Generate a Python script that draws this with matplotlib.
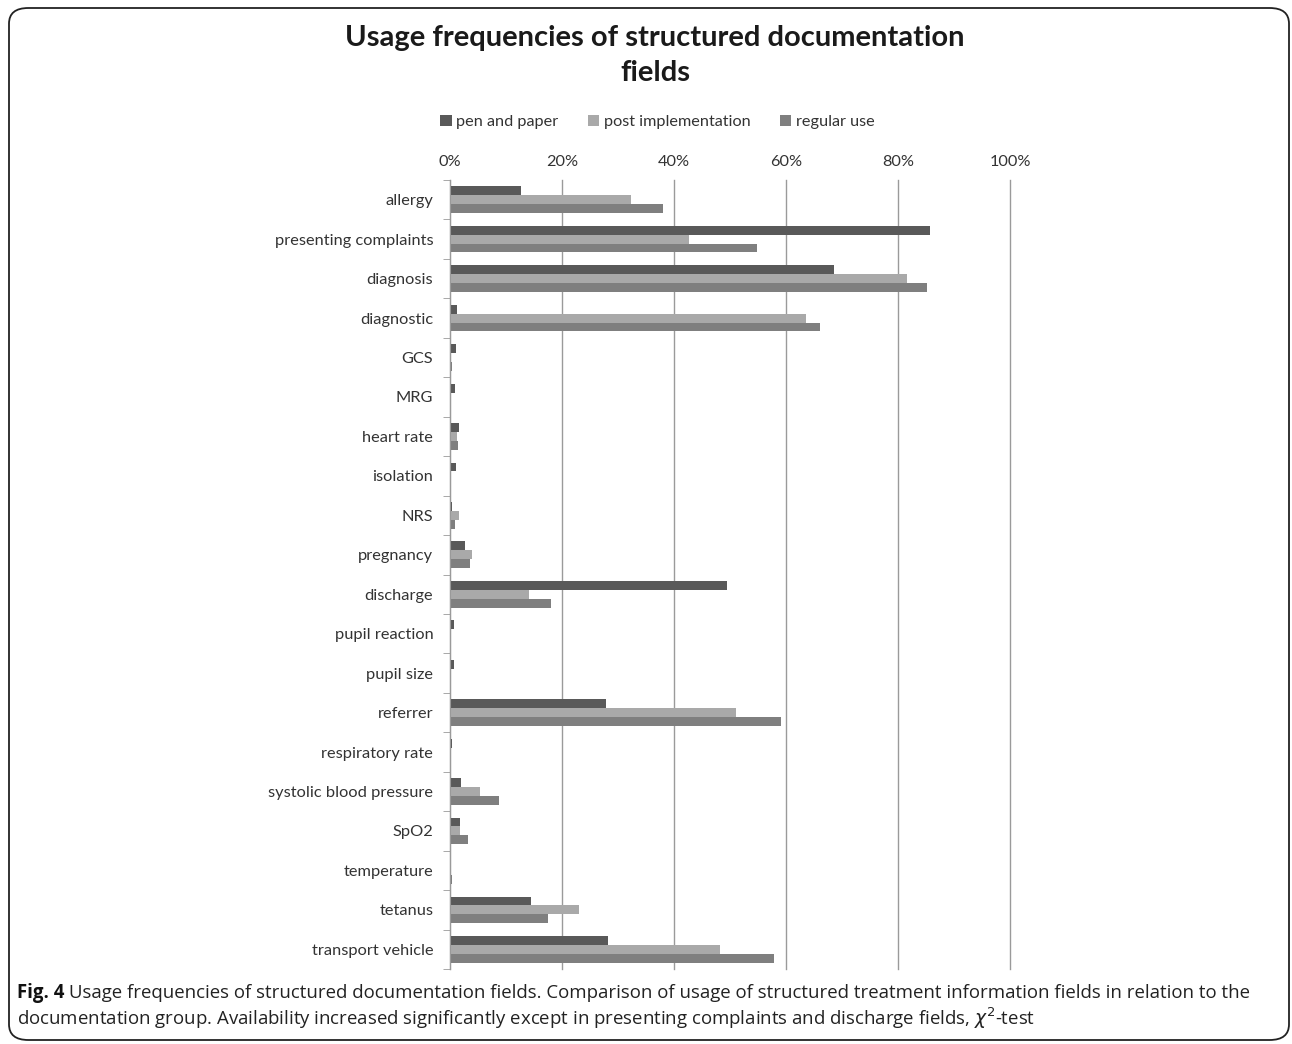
import numpy as np
import matplotlib.pyplot as plt
from matplotlib.patches import FancyBboxPatch
from matplotlib.ticker import PercentFormatter

plt.rcParams['font.family'] = ['Lato', 'DejaVu Sans']

# Daten (Anteil in %)
fields = ["allergy", "presenting complaints", "diagnosis", "diagnostic", "GCS",
          "MRG", "heart rate", "isolation", "NRS", "pregnancy", "discharge",
          "pupil reaction", "pupil size", "referrer", "respiratory rate",
          "systolic blood pressure", "SpO2", "temperature", "tetanus",
          "transport vehicle"]
pen_paper = [12.7, 85.7, 68.6, 1.2, 1.0, 0.9, 1.6, 1.0, 0.4, 2.6, 49.4,
             0.7, 0.7, 27.9, 0.4, 1.9, 1.7, 0.2, 14.5, 28.2]
post_impl = [32.3, 42.7, 81.6, 63.6, 0.2, 0.1, 1.2, 0.1, 1.6, 3.9, 14.1,
             0.1, 0.1, 51.1, 0.1, 5.4, 1.7, 0.2, 23.1, 48.2]
regular = [38.0, 54.8, 85.2, 66.1, 0.4, 0.2, 1.5, 0.2, 0.9, 3.6, 18.0,
           0.2, 0.2, 59.1, 0.2, 8.8, 3.3, 0.4, 17.5, 57.9]
series_names = ["pen and paper", "post implementation", "regular use"]
colors = ["#595959", "#a9a9a9", "#7f7f7f"]

fig = plt.figure(figsize=(12.92, 10.44), dpi=100)
ax = fig.add_axes([450/1292, 1 - 969/1044, 560/1292, 789/1044])

y = np.arange(len(fields))
h = 0.225
for i, (vals, name, c) in enumerate(zip([pen_paper, post_impl, regular], series_names, colors)):
    ax.barh(y + (i - 1) * h, vals, height=h, color=c, label=name, zorder=3)

ax.set_xlim(0, 100)
ax.set_ylim(len(fields) - 0.5, -0.5)
ax.xaxis.tick_top()
ax.set_xticks(np.arange(0, 101, 20))
ax.xaxis.set_major_formatter(PercentFormatter(decimals=0))
ax.tick_params(axis='x', length=0, pad=8, labelsize=11.7, labelcolor="#333333")
ax.grid(axis='x', color="#9a9a9a", linewidth=1, zorder=0)
for gl in ax.get_xgridlines():
    gl.set_clip_on(False)

ax.set_yticks(y)
ax.set_yticklabels(fields)
ax.set_yticks(np.arange(len(fields) + 1) - 0.5, minor=True)
ax.tick_params(axis='y', which='major', length=0, pad=12, labelsize=11.8, labelcolor="#333333")
ax.tick_params(axis='y', which='minor', length=5, color="#9a9a9a")

for s in ["top", "right", "bottom"]:
    ax.spines[s].set_visible(False)
ax.spines["left"].set_color("#9a9a9a")
ax.spines["left"].set_zorder(4)

fig.legend(loc='center', bbox_to_anchor=(0.509, 1 - 122/1044), ncol=3, frameon=False,
           fontsize=11.7, handlelength=0.7, handleheight=0.7, handletextpad=0.3,
           columnspacing=1.8, labelcolor="#333333")

fig.text(0.507, 1 - 38/1044, "Usage frequencies of structured documentation",
         ha='center', va='center', fontsize=21, fontweight='bold', color="#1a1a1a")
fig.text(0.507, 1 - 73/1044, "fields", ha='center', va='center', fontsize=21,
         fontweight='bold', color="#1a1a1a")

# Bildunterschrift
cap_font = ['Open Sans', 'DejaVu Sans']
t = fig.text(17/1292, 1 - 993/1044, "Fig. 4", ha='left', va='center', fontsize=13.4,
             fontweight='bold', family=cap_font, color="#111111")
fig.canvas.draw()
bb = t.get_window_extent()
fig.text((bb.x1 + 5)/1292, 1 - 993/1044,
         "Usage frequencies of structured documentation fields. Comparison of usage of structured treatment information fields in relation to the",
         ha='left', va='center', fontsize=13.4, family=cap_font, color="#222222")
fig.text(17/1292, 1 - 1018/1044,
         "documentation group. Availability increased significantly except in presenting complaints and discharge fields, $\\chi^2$-test",
         ha='left', va='center', fontsize=13.4, family=cap_font, color="#222222")

border = FancyBboxPatch((9/1292, 4/1044), 1280/1292, 1032/1044,
                        boxstyle="round,pad=0,rounding_size=0.015",
                        transform=fig.transFigure, fill=False, edgecolor="#222222",
                        linewidth=1.3)
fig.patches.append(border)

fig.savefig("out.png", dpi=100)
